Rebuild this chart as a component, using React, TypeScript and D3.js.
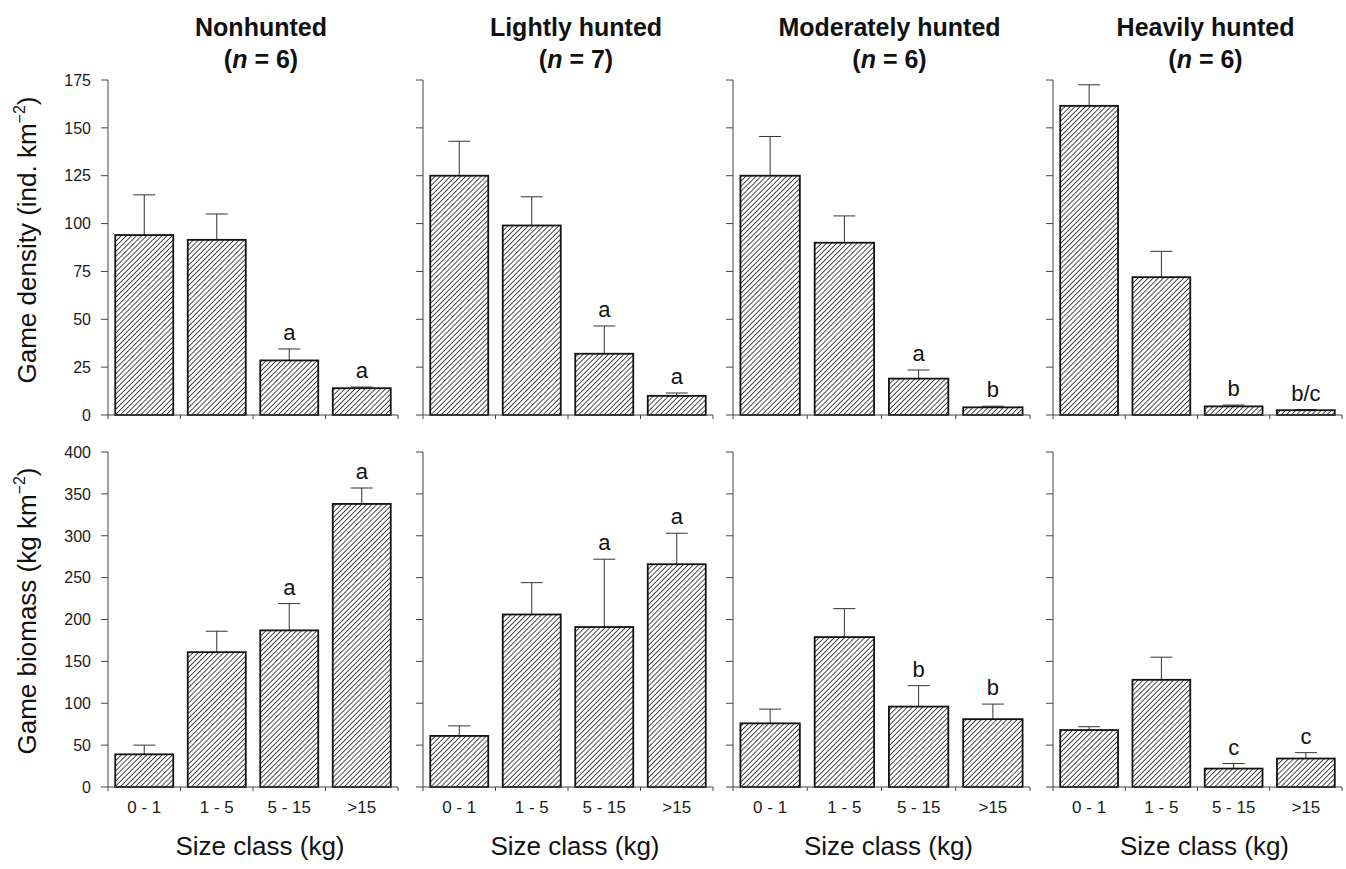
import React from 'react'
import * as d3 from 'd3'

const groups = ['Nonhunted', 'Lightly hunted', 'Moderately hunted', 'Heavily hunted']
const groupN = [6, 7, 6, 6]
const sizeClasses = ['0 - 1', '1 - 5', '5 - 15', '>15']

// game density (ind. km-2), mean and mean + SE, per group
const densityMean = [
  [94, 91.5, 28.5, 14],
  [125, 99, 32, 10],
  [125, 90, 19, 4],
  [161.5, 72, 4.5, 2.5],
]
const densityTop = [
  [115, 105, 34.5, 14.6],
  [143, 114, 46.5, 11.5],
  [145.5, 104, 23.5, 4.6],
  [172.5, 85.5, 5.2, 2.8],
]
const densityLetters = [
  ['', '', 'a', 'a'],
  ['', '', 'a', 'a'],
  ['', '', 'a', 'b'],
  ['', '', 'b', 'b/c'],
]

// game biomass (kg km-2)
const biomassMean = [
  [39, 161, 187, 338],
  [61, 206, 191, 266],
  [76, 179, 96, 81],
  [68, 128, 22, 34],
]
const biomassTop = [
  [50, 186, 219, 357],
  [73, 244, 272, 303],
  [93, 213, 121, 99],
  [72, 155, 28, 41],
]
const biomassLetters = [
  ['', '', 'a', 'a'],
  ['', '', 'a', 'a'],
  ['', '', 'b', 'b'],
  ['', '', 'c', 'c'],
]

const densityTicks = [0, 25, 50, 75, 100, 125, 150, 175]
const biomassTicks = [0, 50, 100, 150, 200, 250, 300, 350, 400]

const panelLeft = [108, 423, 733, 1053]
const panelWidth = [290, 290, 297, 289]
const font = 'Arial, "Liberation Sans", Helvetica, sans-serif'

type RowProps = {
  y: d3.ScaleLinear<number, number>
  ticks: number[]
  means: number[][]
  tops: number[][]
  letters: string[][]
  showX: boolean
}

const Row = ({ y, ticks, means, tops, letters, showX }: RowProps) => {
  const [y0] = y.range()
  return (
    <g>
      {groups.map((g, gi) => {
        const left = panelLeft[gi]
        const w = panelWidth[gi]
        const x = d3.scaleBand<string>().domain(sizeClasses).range([left, left + w])
          .paddingInner(0.2).paddingOuter(0.1)
        const step = x.step()
        const bounds = d3.range(sizeClasses.length + 1).map(i => left + i * step)
        return (
          <g key={g}>
            {/* y axis */}
            <line x1={left} x2={left} y1={y(ticks[ticks.length - 1])} y2={y0} stroke="#444" strokeWidth={1} />
            {ticks.map(t => (
              <g key={t}>
                <line x1={left - 7} x2={left} y1={y(t)} y2={y(t)} stroke="#444" strokeWidth={1} />
                {gi === 0 && (
                  <text x={left - 17} y={y(t)} dy="0.36em" textAnchor="end" fontSize={16} fill="#1a1a1a">{t}</text>
                )}
              </g>
            ))}
            {/* bars */}
            {sizeClasses.map((c, ci) => {
              const bx = x(c)!
              const bw = x.bandwidth()
              const cx = bx + bw / 2
              const top = tops[gi][ci]
              return (
                <g key={c}>
                  <line x1={cx} x2={cx} y1={y(means[gi][ci])} y2={y(top)} stroke="#333" strokeWidth={1} />
                  <line x1={cx - 11} x2={cx + 11} y1={y(top)} y2={y(top)} stroke="#333" strokeWidth={1} />
                  <rect x={bx} y={y(means[gi][ci])} width={bw} height={y0 - y(means[gi][ci])}
                    fill="url(#hatch)" stroke="#111" strokeWidth={1.8} />
                  {letters[gi][ci] && (
                    <text x={cx} y={y(top) - 9} textAnchor="middle" fontSize={22} fill="#111">{letters[gi][ci]}</text>
                  )}
                  {showX && (
                    <text x={cx} y={813} textAnchor="middle" fontSize={17} fill="#1a1a1a">{c}</text>
                  )}
                </g>
              )
            })}
            {/* x axis */}
            <line x1={left} x2={left + w} y1={y0} y2={y0} stroke="#444" strokeWidth={1} />
            {bounds.map((b, i) => (
              <line key={i} x1={b} x2={b} y1={y0} y2={y0 + 4} stroke="#444" strokeWidth={1} />
            ))}
            {showX && (
              <text x={left + w / 2 + 7} y={855} textAnchor="middle" fontSize={26} fill="#111">Size class (kg)</text>
            )}
          </g>
        )
      })}
    </g>
  )
}

const App = () => {
  const yDensity = d3.scaleLinear().domain([0, 175]).range([415, 80])
  const yBiomass = d3.scaleLinear().domain([0, 400]).range([787, 452])

  return (
    <svg width={1346} height={869} style={{ position: 'absolute', left: 0, top: 0, background: '#fff' }}
      fontFamily={font}>
      <defs>
        <pattern id="hatch" patternUnits="userSpaceOnUse" width={3.6} height={3.6} patternTransform="rotate(45)">
          <rect width={3.6} height={3.6} fill="#fff" />
          <line x1={0} y1={0} x2={0} y2={3.6} stroke="#111" strokeWidth={1.5} />
        </pattern>
      </defs>

      {groups.map((g, gi) => {
        const cx = panelLeft[gi] + panelWidth[gi] / 2 + 8
        return (
          <g key={g} fontWeight="bold" fontSize={25} fill="#111">
            <text x={cx} y={36} textAnchor="middle">{g}</text>
            <text x={cx} y={68} textAnchor="middle">
              (<tspan fontStyle="italic">n</tspan> = {groupN[gi]})
            </text>
          </g>
        )
      })}

      <text transform="translate(36,240) rotate(-90)" textAnchor="middle" fontSize={26} fill="#111">
        Game density (ind. km<tspan dy={-11} fontSize={16}>−2</tspan><tspan dy={11}>)</tspan>
      </text>
      <text transform="translate(36,611) rotate(-90)" textAnchor="middle" fontSize={26} fill="#111">
        Game biomass (kg km<tspan dy={-11} fontSize={16}>−2</tspan><tspan dy={11}>)</tspan>
      </text>

      <Row y={yDensity} ticks={densityTicks} means={densityMean} tops={densityTop} letters={densityLetters} showX={false} />
      <Row y={yBiomass} ticks={biomassTicks} means={biomassMean} tops={biomassTop} letters={biomassLetters} showX={true} />
    </svg>
  )
}

export default App
